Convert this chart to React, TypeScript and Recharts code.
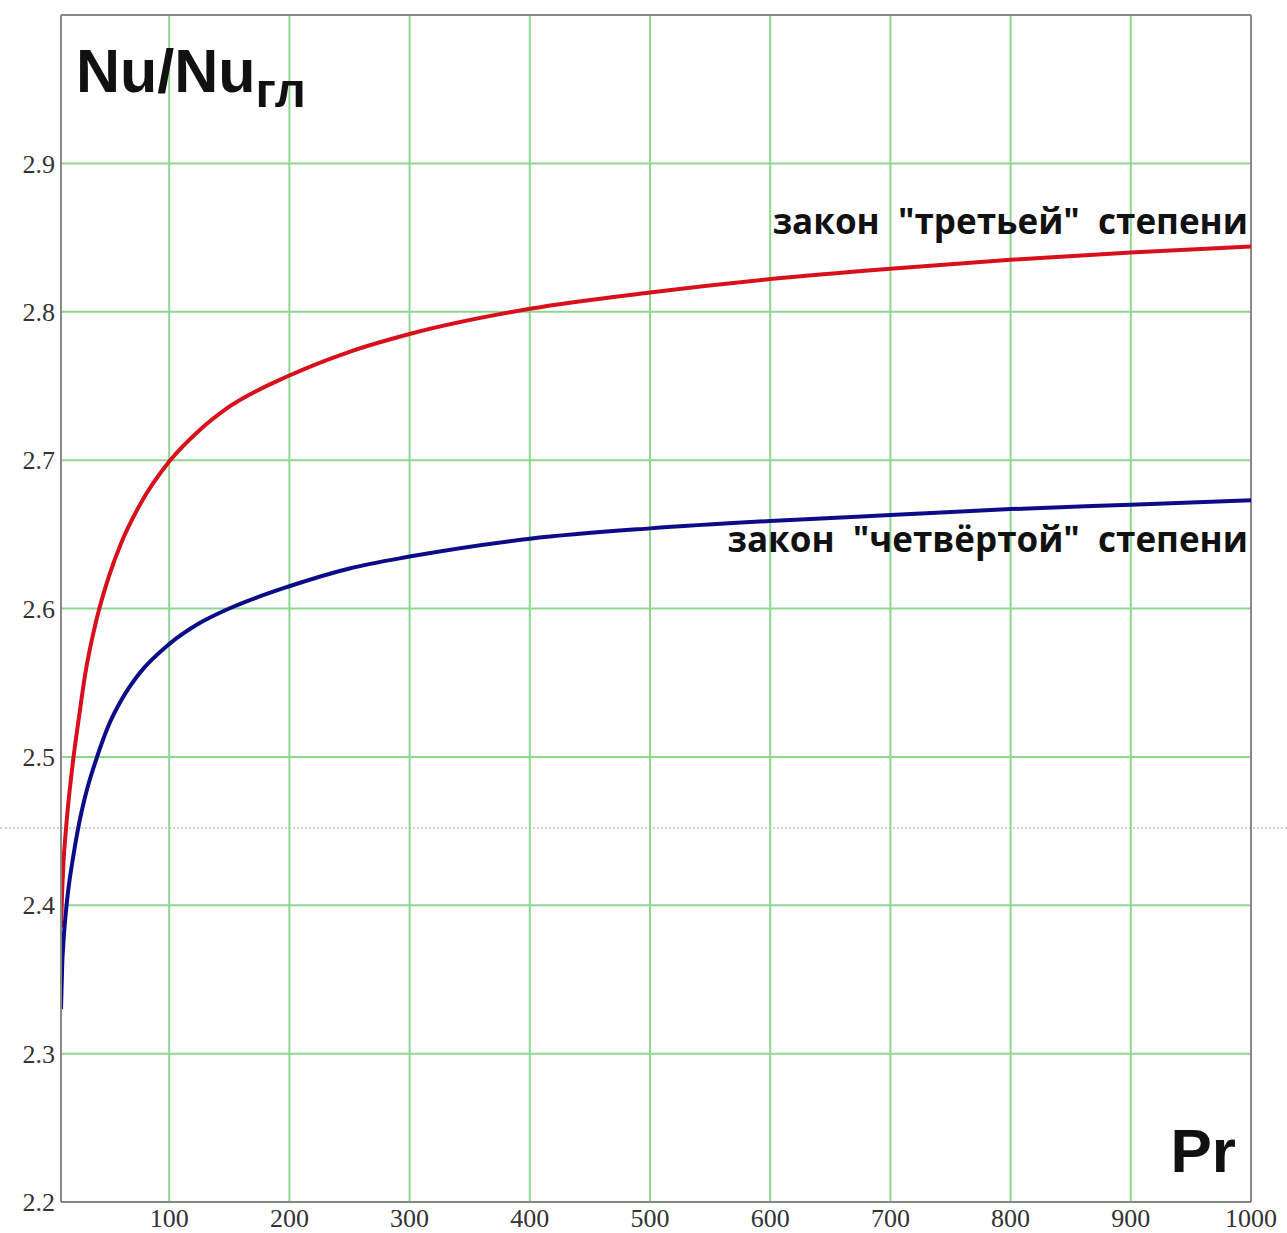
import React from 'react'
import { LineChart, Line, XAxis, YAxis, CartesianGrid, ReferenceLine } from 'recharts'

// Prandtl numbers where both curves are sampled
const prValues = [10, 11, 12, 14, 16, 20, 25, 30, 40, 50, 60, 75, 100, 125, 150, 200, 250, 300, 400, 500, 600, 700, 800, 900, 1000]

// Nu/Nu_гл, cubic law
const cubicLaw = [2.385, 2.41, 2.428, 2.45, 2.468, 2.497, 2.527, 2.555, 2.594, 2.622, 2.644, 2.669, 2.699, 2.72, 2.736, 2.757, 2.773, 2.785, 2.802, 2.813, 2.822, 2.829, 2.835, 2.84, 2.844]

// Nu/Nu_гл, fourth-power law
const quarticLaw = [2.33, 2.36, 2.375, 2.395, 2.41, 2.432, 2.455, 2.473, 2.5, 2.522, 2.538, 2.556, 2.576, 2.59, 2.6, 2.615, 2.627, 2.635, 2.647, 2.654, 2.659, 2.663, 2.667, 2.67, 2.673]

const xTicks = [100, 200, 300, 400, 500, 600, 700, 800, 900, 1000]
const yTicks = [2.2, 2.3, 2.4, 2.5, 2.6, 2.7, 2.8, 2.9]

const data = prValues.map((pr, i) => ({ pr, cubic: cubicLaw[i], quartic: quarticLaw[i] }))

const tickStyle = { fontFamily: '"Liberation Serif", serif', fontSize: 26, fill: '#333' }
const titleFont = '"Liberation Sans", Arial, sans-serif'
const labelFont = '"Open Sans", "DejaVu Sans", sans-serif'

export default function App() {
  return (
    <div style={{ position: 'absolute', left: 0, top: 0, width: 1287, height: 1233, background: '#fff' }}>
      {/* faint dotted trace running across the whole sheet */}
      <div style={{ position: 'absolute', left: 0, top: 827, width: 1287, borderTop: '2px dotted #cfcfcf' }} />
      <div style={{ position: 'relative' }}>
        <LineChart width={1287} height={1233} data={data} margin={{ top: 15, right: 36, bottom: 0, left: 0 }}>
          <CartesianGrid stroke="#8fd68f" strokeWidth={2} horizontalValues={yTicks} verticalValues={xTicks} />
          <XAxis
            dataKey="pr"
            type="number"
            domain={[10, 1000]}
            ticks={xTicks}
            height={31}
            tickSize={0}
            tickMargin={7}
            axisLine={{ stroke: '#7f8a7f', strokeWidth: 2 }}
            tick={tickStyle}
            allowDataOverflow
          />
          <YAxis
            type="number"
            domain={[2.2, 3.0]}
            ticks={yTicks}
            width={61}
            tickSize={0}
            tickMargin={6}
            axisLine={{ stroke: '#888', strokeWidth: 2 }}
            tick={tickStyle}
            tickFormatter={(v: number) => v.toFixed(1)}
            allowDataOverflow
          />
          <ReferenceLine y={3.0} stroke="#888" strokeWidth={2} />
          <ReferenceLine x={1000} stroke="#888" strokeWidth={2} />
          <Line type="monotone" dataKey="cubic" stroke="#d8101c" strokeWidth={4} dot={false} isAnimationActive={false} />
          <Line type="monotone" dataKey="quartic" stroke="#0c0c88" strokeWidth={4} dot={false} isAnimationActive={false} />

          <text x={76} y={92} fontFamily={titleFont} fontWeight={700} fontSize={61} fill="#111">
            Nu/Nu<tspan fontSize={49} dy={15}>гл</tspan>
          </text>
          <text x={1236} y={1172} textAnchor="end" fontFamily={titleFont} fontWeight={700} fontSize={62} fill="#111">
            Pr
          </text>
          <text x={1248} y={234} textAnchor="end" fontFamily={labelFont} fontWeight={700} fontSize={35} fill="#111" style={{ whiteSpace: 'pre' }}>
            {'закон  "третьей"  степени'}
          </text>
          <text x={1248} y={552} textAnchor="end" fontFamily={labelFont} fontWeight={700} fontSize={35} fill="#111" style={{ whiteSpace: 'pre' }}>
            {'закон  "четвёртой"  степени'}
          </text>
        </LineChart>
      </div>
    </div>
  )
}
